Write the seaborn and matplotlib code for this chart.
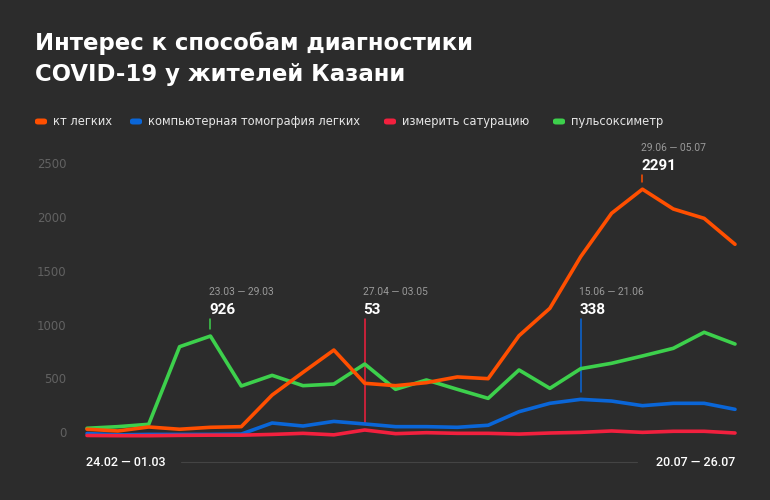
import matplotlib
matplotlib.use("Agg")
import matplotlib.pyplot as plt
import matplotlib.transforms as mtransforms
import seaborn as sns
import pandas as pd
from matplotlib.patches import FancyBboxPatch

# ---- data ----
week_start = ["24.02", "02.03", "09.03", "16.03", "23.03", "30.03", "06.04", "13.04",
              "20.04", "27.04", "04.05", "11.05", "18.05", "25.05", "01.06", "08.06",
              "15.06", "22.06", "29.06", "06.07", "13.07", "20.07"]
week_end = ["01.03", "08.03", "15.03", "22.03", "29.03", "05.04", "12.04", "19.04",
            "26.04", "03.05", "10.05", "17.05", "24.05", "31.05", "07.06", "14.06",
            "21.06", "28.06", "05.07", "12.07", "19.07", "26.07"]

series_names = ["кт легких", "компьютерная томография легких", "измерить сатурацию", "пульсоксиметр"]
kt_lungs = [60, 44, 81, 60, 78, 84, 378, 589, 796, 487, 465, 493, 546, 530, 929, 1184,
            1664, 2067, 2291, 2107, 2020, 1779]
ct_full = [20, 8, 12, 12, 12, 15, 118, 90, 133, 109, 84, 84, 78, 97, 223, 301,
           338, 322, 279, 301, 301, 245]
saturation = [2, 0, 0, 3, 5, 5, 12, 22, 8, 53, 19, 28, 22, 22, 15, 25,
              31, 44, 31, 41, 41, 25]
oximeter = [69, 84, 106, 827, 926, 462, 561, 465, 480, 666, 431, 518, 431, 347, 611, 440,
            623, 673, 741, 812, 961, 852]
y_ticks = [0, 500, 1000, 1500, 2000, 2500]

# annotations: (series index, week index)
annotations = [(3, 4), (2, 9), (1, 16), (0, 18)]

# ---- style ----
BG = "#2c2c2c"
colors = ["#ff4f00", "#0a66d8", "#f2203e", "#3dd04c"]
sns.set_theme(style="white")
plt.rcParams["font.family"] = ["DejaVu Sans"]
NUM_FONT = ["Roboto", "DejaVu Sans"]

W, H = 770, 500
fig = plt.figure(figsize=(W / 100, H / 100), dpi=100, facecolor=BG)

def fx(x):
    return x / W

def fy(y):
    return 1 - y / H

# axes: x index 0 at px 87, 21 at px 735 ; y 0 at px 435.7, scale 0.1076 px/unit
y_lo, y_hi = -100, 2600
zero_px, k = 435.7, 0.1076
bottom_px = zero_px - k * y_lo
top_px = zero_px - k * y_hi
ax = fig.add_axes([fx(87), fy(bottom_px), fx(735) - fx(87), (bottom_px - top_px) / H])
ax.set_facecolor(BG)

all_series = [kt_lungs, ct_full, saturation, oximeter]
rows = []
for name, vals in zip(series_names, all_series):
    for i, v in enumerate(vals):
        rows.append({"week": i, "value": v, "series": name})
df = pd.DataFrame(rows)

draw_order = [3, 1, 2, 0]
for si in draw_order:
    sub = df[df["series"] == series_names[si]]
    sns.lineplot(data=sub, x="week", y="value", color=colors[si], lw=2.6,
                 ax=ax, legend=False, clip_on=False, zorder=3 + draw_order.index(si))

ax.set_xlim(0, len(week_start) - 1)
ax.set_ylim(y_lo, y_hi)
ax.set_yticks(y_ticks)
ax.set_yticklabels([str(t) for t in y_ticks], color="#626262", fontsize=8.4)
ax.tick_params(axis="y", length=0, pad=15)
ax.set_xticks([])
ax.set_xlabel("")
ax.set_ylabel("")
for s in ax.spines.values():
    s.set_visible(False)
shift = mtransforms.ScaledTranslation(0, 3.5 / 100, fig.dpi_scale_trans)
for lab in ax.get_yticklabels():
    lab.set_transform(lab.get_transform() + shift)

# annotations
px_per_pt = 100 / 72
for si, wi in annotations:
    val = all_series[si][wi]
    if val > 2000:
        top_val = val + 14 / k
    else:
        top_val = (zero_px - 319) / k
    end_val = val + 7 / k
    ax.plot([wi, wi], [top_val, end_val], color=colors[si], lw=1.1, zorder=2, clip_on=False)
    ax.annotate(str(val), xy=(wi, top_val), xytext=(-1.0, 9 / px_per_pt),
                textcoords="offset points", ha="left", va="center",
                color="white", fontsize=11, fontweight="bold", family=NUM_FONT,
                annotation_clip=False)
    ax.annotate(f"{week_start[wi]} — {week_end[wi]}", xy=(wi, top_val),
                xytext=(-1.0, 27 / px_per_pt), textcoords="offset points",
                ha="left", va="center", color="#9a9a9a", fontsize=7.4,
                family=NUM_FONT, annotation_clip=False)

# bottom date labels and connecting line
fig.text(fx(86), fy(463), f"{week_start[0]} — {week_end[0]}", color="white",
         fontsize=9, fontweight="medium", family=NUM_FONT, ha="left", va="center")
fig.text(fx(735), fy(463), f"{week_start[-1]} — {week_end[-1]}", color="white",
         fontsize=9, fontweight="medium", family=NUM_FONT, ha="right", va="center")
fig.add_artist(plt.Line2D([fx(181), fx(637)], [fy(461.5), fy(461.5)],
                          color="#444444", lw=0.8))

# title
fig.text(fx(35), fy(43), "Интерес к способам диагностики", color="white",
         fontsize=16.4, fontweight="bold", ha="left", va="center")
fig.text(fx(35), fy(75), "COVID-19 у жителей Казани", color="white",
         fontsize=16.4, fontweight="bold", ha="left", va="center")

# legend
marker_x = [35, 130, 384, 553]
for name, c, mx in zip(series_names, colors, marker_x):
    fig.add_artist(FancyBboxPatch((fx(mx), fy(124.5)), fx(12), 6 / H,
                                  boxstyle="round,pad=0,rounding_size=0.004",
                                  facecolor=c, edgecolor="none",
                                  transform=fig.transFigure))
    fig.text(fx(mx + 18), fy(121.5), name, color="#e6e6e6", fontsize=8.3,
             ha="left", va="center")

fig.savefig("out.png", dpi=100, facecolor=BG)
